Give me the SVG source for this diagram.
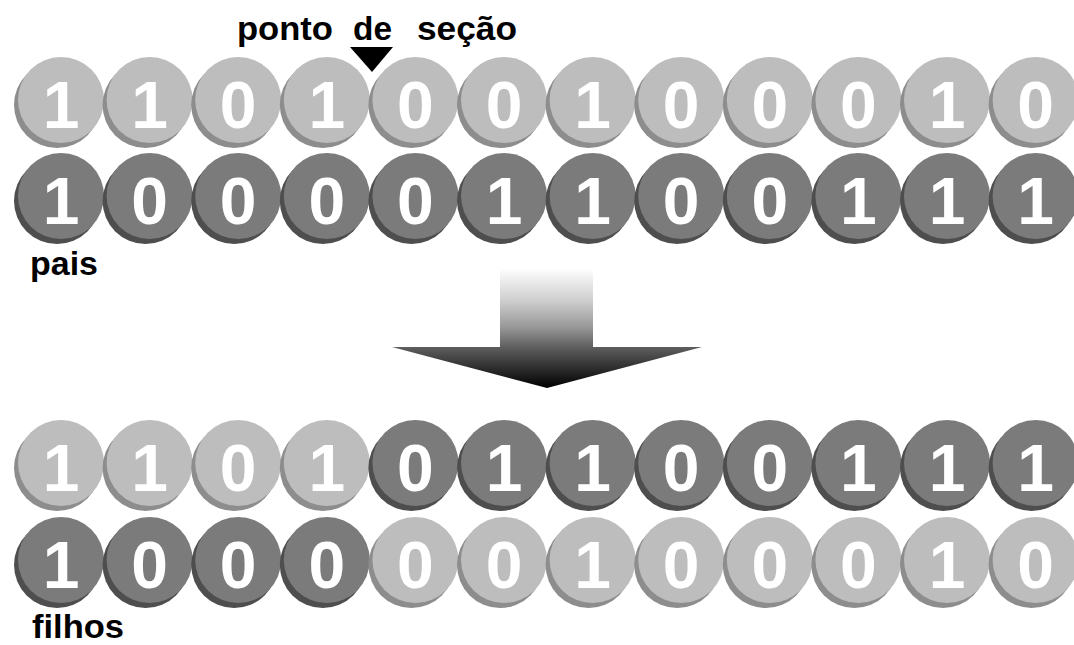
<svg xmlns="http://www.w3.org/2000/svg" xmlns:xlink="http://www.w3.org/1999/xlink" width="1074" height="645" viewBox="0 0 1074 645">
  <style>
    .lbl { font-family: "Liberation Sans", Arial, sans-serif; font-weight: bold; font-size: 33px; fill: #000; }
    .bit { font-family: "Liberation Sans", Arial, sans-serif; font-weight: bold; font-size: 66px; fill: #fff; text-anchor: middle; }
    .lf { fill: #bdbdbd; }
    .ls { fill: #8d8d8d; }
    .df { fill: #7b7b7b; }
    .ds { fill: #4e4e4e; }
  </style>
  <defs>
    <!-- raised disc: darker rim offset down-left, face on top -->
    <g id="light">
      <circle class="ls" cx="-4" cy="5" r="43"/>
      <circle class="lf" cx="0" cy="0" r="43"/>
    </g>
    <g id="dark">
      <circle class="ds" cx="-4" cy="5" r="43"/>
      <circle class="df" cx="0" cy="0" r="43"/>
    </g>
    <linearGradient id="arrowFill" gradientUnits="userSpaceOnUse" x1="0" y1="268" x2="0" y2="388">
      <stop offset="0" stop-color="#ffffff"/>
      <stop offset="0.27" stop-color="#cfcfcf"/>
      <stop offset="0.5" stop-color="#969696"/>
      <stop offset="0.66" stop-color="#5e5e5e"/>
      <stop offset="1" stop-color="#000000"/>
    </linearGradient>
  </defs>

  <!-- labels -->
  <g id="labels">
    <text class="lbl" x="237" y="40" textLength="96" lengthAdjust="spacingAndGlyphs">ponto</text>
    <text class="lbl" x="353" y="40" textLength="39" lengthAdjust="spacingAndGlyphs">de</text>
    <text class="lbl" x="417" y="40" textLength="100" lengthAdjust="spacingAndGlyphs">seção</text>
    <text class="lbl" x="30" y="275" textLength="68" lengthAdjust="spacingAndGlyphs">pais</text>
    <text class="lbl" x="32" y="638" textLength="92" lengthAdjust="spacingAndGlyphs">filhos</text>
  </g>

  <!-- cut point marker -->
  <polygon id="cut-marker" points="350,47 393,47 372,72" fill="#000"/>

  <!-- parent 1 -->
  <g id="parent1">
    <g id="p1-0" transform="translate(61,100)"><use xlink:href="#light"/><text class="bit" y="28">1</text></g>
    <g id="p1-1" transform="translate(149.6,100)"><use xlink:href="#light"/><text class="bit" y="28">1</text></g>
    <g id="p1-2" transform="translate(238.2,100)"><use xlink:href="#light"/><text class="bit" y="28">0</text></g>
    <g id="p1-3" transform="translate(326.8,100)"><use xlink:href="#light"/><text class="bit" y="28">1</text></g>
    <g id="p1-4" transform="translate(415.4,100)"><use xlink:href="#light"/><text class="bit" y="28">0</text></g>
    <g id="p1-5" transform="translate(504,100)"><use xlink:href="#light"/><text class="bit" y="28">0</text></g>
    <g id="p1-6" transform="translate(592.6,100)"><use xlink:href="#light"/><text class="bit" y="28">1</text></g>
    <g id="p1-7" transform="translate(681.2,100)"><use xlink:href="#light"/><text class="bit" y="28">0</text></g>
    <g id="p1-8" transform="translate(769.8,100)"><use xlink:href="#light"/><text class="bit" y="28">0</text></g>
    <g id="p1-9" transform="translate(858.4,100)"><use xlink:href="#light"/><text class="bit" y="28">0</text></g>
    <g id="p1-10" transform="translate(947,100)"><use xlink:href="#light"/><text class="bit" y="28">1</text></g>
    <g id="p1-11" transform="translate(1035.6,100)"><use xlink:href="#light"/><text class="bit" y="28">0</text></g>
  </g>

  <!-- parent 2 -->
  <g id="parent2">
    <g id="p2-0" transform="translate(61,196)"><use xlink:href="#dark"/><text class="bit" y="28">1</text></g>
    <g id="p2-1" transform="translate(149.6,196)"><use xlink:href="#dark"/><text class="bit" y="28">0</text></g>
    <g id="p2-2" transform="translate(238.2,196)"><use xlink:href="#dark"/><text class="bit" y="28">0</text></g>
    <g id="p2-3" transform="translate(326.8,196)"><use xlink:href="#dark"/><text class="bit" y="28">0</text></g>
    <g id="p2-4" transform="translate(415.4,196)"><use xlink:href="#dark"/><text class="bit" y="28">0</text></g>
    <g id="p2-5" transform="translate(504,196)"><use xlink:href="#dark"/><text class="bit" y="28">1</text></g>
    <g id="p2-6" transform="translate(592.6,196)"><use xlink:href="#dark"/><text class="bit" y="28">1</text></g>
    <g id="p2-7" transform="translate(681.2,196)"><use xlink:href="#dark"/><text class="bit" y="28">0</text></g>
    <g id="p2-8" transform="translate(769.8,196)"><use xlink:href="#dark"/><text class="bit" y="28">0</text></g>
    <g id="p2-9" transform="translate(858.4,196)"><use xlink:href="#dark"/><text class="bit" y="28">1</text></g>
    <g id="p2-10" transform="translate(947,196)"><use xlink:href="#dark"/><text class="bit" y="28">1</text></g>
    <g id="p2-11" transform="translate(1035.6,196)"><use xlink:href="#dark"/><text class="bit" y="28">1</text></g>
  </g>

  <!-- crossover arrow -->
  <g id="connectors">
    <polygon id="crossover-arrow" points="500,268 593,268 593,347 702,347 547,388 392,347 500,347" fill="url(#arrowFill)"/>
  </g>

  <!-- child 1 -->
  <g id="child1">
    <g id="c1-0" transform="translate(61,463)"><use xlink:href="#light"/><text class="bit" y="28">1</text></g>
    <g id="c1-1" transform="translate(149.6,463)"><use xlink:href="#light"/><text class="bit" y="28">1</text></g>
    <g id="c1-2" transform="translate(238.2,463)"><use xlink:href="#light"/><text class="bit" y="28">0</text></g>
    <g id="c1-3" transform="translate(326.8,463)"><use xlink:href="#light"/><text class="bit" y="28">1</text></g>
    <g id="c1-4" transform="translate(415.4,463)"><use xlink:href="#dark"/><text class="bit" y="28">0</text></g>
    <g id="c1-5" transform="translate(504,463)"><use xlink:href="#dark"/><text class="bit" y="28">1</text></g>
    <g id="c1-6" transform="translate(592.6,463)"><use xlink:href="#dark"/><text class="bit" y="28">1</text></g>
    <g id="c1-7" transform="translate(681.2,463)"><use xlink:href="#dark"/><text class="bit" y="28">0</text></g>
    <g id="c1-8" transform="translate(769.8,463)"><use xlink:href="#dark"/><text class="bit" y="28">0</text></g>
    <g id="c1-9" transform="translate(858.4,463)"><use xlink:href="#dark"/><text class="bit" y="28">1</text></g>
    <g id="c1-10" transform="translate(947,463)"><use xlink:href="#dark"/><text class="bit" y="28">1</text></g>
    <g id="c1-11" transform="translate(1035.6,463)"><use xlink:href="#dark"/><text class="bit" y="28">1</text></g>
  </g>

  <!-- child 2 -->
  <g id="child2">
    <g id="c2-0" transform="translate(61,560)"><use xlink:href="#dark"/><text class="bit" y="28">1</text></g>
    <g id="c2-1" transform="translate(149.6,560)"><use xlink:href="#dark"/><text class="bit" y="28">0</text></g>
    <g id="c2-2" transform="translate(238.2,560)"><use xlink:href="#dark"/><text class="bit" y="28">0</text></g>
    <g id="c2-3" transform="translate(326.8,560)"><use xlink:href="#dark"/><text class="bit" y="28">0</text></g>
    <g id="c2-4" transform="translate(415.4,560)"><use xlink:href="#light"/><text class="bit" y="28">0</text></g>
    <g id="c2-5" transform="translate(504,560)"><use xlink:href="#light"/><text class="bit" y="28">0</text></g>
    <g id="c2-6" transform="translate(592.6,560)"><use xlink:href="#light"/><text class="bit" y="28">1</text></g>
    <g id="c2-7" transform="translate(681.2,560)"><use xlink:href="#light"/><text class="bit" y="28">0</text></g>
    <g id="c2-8" transform="translate(769.8,560)"><use xlink:href="#light"/><text class="bit" y="28">0</text></g>
    <g id="c2-9" transform="translate(858.4,560)"><use xlink:href="#light"/><text class="bit" y="28">0</text></g>
    <g id="c2-10" transform="translate(947,560)"><use xlink:href="#light"/><text class="bit" y="28">1</text></g>
    <g id="c2-11" transform="translate(1035.6,560)"><use xlink:href="#light"/><text class="bit" y="28">0</text></g>
  </g>
</svg>
